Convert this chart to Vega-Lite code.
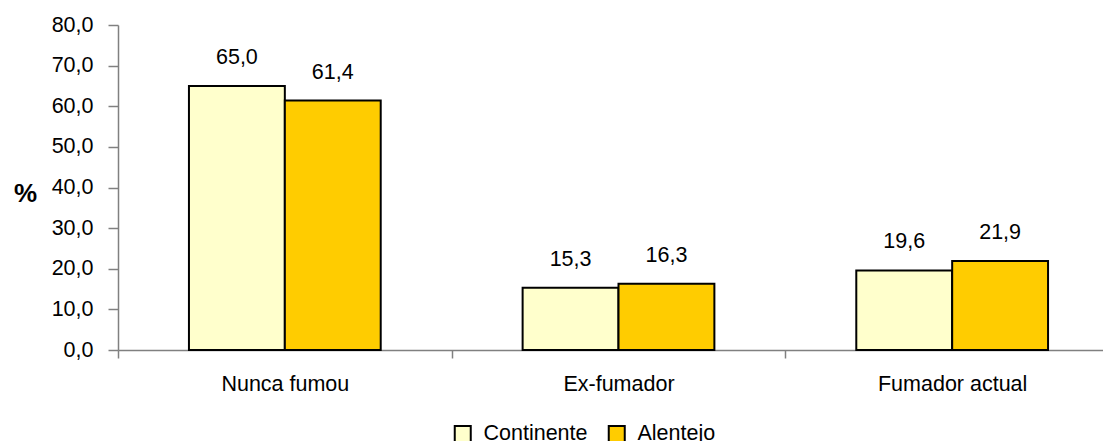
{
  "$schema": "https://vega.github.io/schema/vega-lite/v6.json",
  "autosize": {"type": "none"},
  "padding": {"left": 118, "top": 25, "right": 0, "bottom": 91},
  "width": 985,
  "height": 325,
  "background": "white",
  "config": {
    "locale": {"number": {"decimal": ",", "thousands": ".", "grouping": [3], "currency": ["", " €"]}},
    "view": {"stroke": null},
    "font": "Liberation Sans"
  },
  "data": {
    "values": [
      {"grupo": "Nunca fumou", "regiao": "Continente", "pct": 65.0},
      {"grupo": "Nunca fumou", "regiao": "Alentejo", "pct": 61.4},
      {"grupo": "Ex-fumador", "regiao": "Continente", "pct": 15.3},
      {"grupo": "Ex-fumador", "regiao": "Alentejo", "pct": 16.3},
      {"grupo": "Fumador actual", "regiao": "Continente", "pct": 19.6},
      {"grupo": "Fumador actual", "regiao": "Alentejo", "pct": 21.9}
    ]
  },
  "encoding": {
    "x": {
      "field": "grupo",
      "type": "nominal",
      "sort": ["Nunca fumou", "Ex-fumador", "Fumador actual"],
      "scale": {"range": [0, 1001], "paddingInner": 0, "paddingOuter": 0},
      "axis": {
        "title": null,
        "labelAngle": 0,
        "labelFontSize": 21.5,
        "labelColor": "black",
        "labelPadding": 15,
        "tickBand": "extent",
        "tickSize": 8,
        "domainColor": "#808080",
        "tickColor": "#808080",
        "domainWidth": 1.5,
        "tickWidth": 1.5
      }
    },
    "xOffset": {
      "field": "regiao",
      "type": "nominal",
      "sort": ["Continente", "Alentejo"],
      "scale": {"paddingInner": 0, "paddingOuter": 0.74}
    },
    "y": {
      "field": "pct",
      "type": "quantitative",
      "scale": {"domain": [0, 80], "nice": false},
      "axis": {
        "values": [0, 10, 20, 30, 40, 50, 60, 70, 80],
        "format": ".1f",
        "grid": false,
        "title": "%",
        "titleAngle": 0,
        "titleFontSize": 26,
        "titleFontWeight": "bold",
        "titleAlign": "center",
        "titleBaseline": "middle",
        "titleX": -93,
        "titleY": 168,
        "labelFontSize": 21.5,
        "labelColor": "black",
        "labelPadding": 15,
        "tickSize": 10,
        "domainColor": "#808080",
        "tickColor": "#808080",
        "domainWidth": 1.5,
        "tickWidth": 1.5
      }
    }
  },
  "layer": [
    {
      "mark": {"type": "bar", "stroke": "black", "strokeWidth": 2},
      "encoding": {
        "color": {
          "field": "regiao",
          "type": "nominal",
          "sort": ["Continente", "Alentejo"],
          "scale": {"domain": ["Continente", "Alentejo"], "range": ["#FFFFCC", "#FFCC00"]},
          "legend": {
            "title": null,
            "orient": "none",
            "direction": "horizontal",
            "legendX": 334,
            "legendY": 398,
            "symbolType": "square",
            "symbolSize": 256,
            "symbolStrokeColor": "black",
            "symbolStrokeWidth": 2,
            "labelFontSize": 21.5,
            "labelColor": "black",
            "labelOffset": 10,
            "columnPadding": 16
          }
        }
      }
    },
    {
      "mark": {"type": "text", "fontSize": 21.5, "dy": -22, "baseline": "alphabetic", "color": "black"},
      "encoding": {
        "text": {"field": "pct", "type": "quantitative", "format": ".1f"}
      }
    }
  ]
}
